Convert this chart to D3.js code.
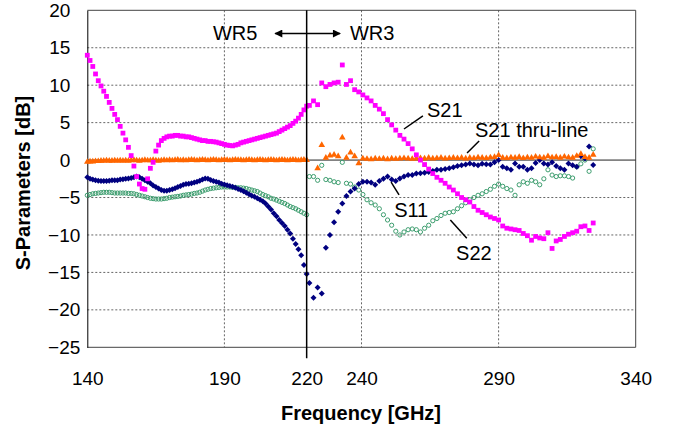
<!DOCTYPE html>
<html>
<head>
<meta charset="utf-8">
<script src="https://cdn.jsdelivr.net/npm/d3@7"></script>
<style>
  body { margin: 0; background: #fff; }
  text { font-family: "Liberation Sans", Arial, sans-serif; fill: #000; }
</style>
</head>
<body>
<svg id="chart" width="673" height="430"></svg>
<script>
// frequency sweeps [GHz]
var freqWR5 = [140,141,142,143,144,145,146,147,148,149,150,151,152,153,154,155,156,157,158,159,
  160,161,162,163,164,165,166,167,168,169,170,171,172,173,174,175,176,177,178,179,
  180,181,182,183,184,185,186,187,188,189,190,191,192,193,194,195,196,197,198,199,
  200,201,202,203,204,205,206,207,208,209,210,211,212,213,214,215,216,217,218,219,220]
var freqWR3 = [221,222.5,224,225.5,227,228.5,230,231.5,233,234.5,236,237.5,239,240.5,242,243.5,
  245,246.5,248,249.5,251,252.5,254,255.5,257,258.5,260,261.5,263,264.5,266,267.5,269,270.5,
  272,273.5,275,276.5,278,279.5,281,282.5,284,285.5,287,288.5,290,291.5,293,294.5,296,297.5,
  299,300.5,302,303.5,305,306.5,308,309.5,311,312.5,314,315.5,317,318.5,320,321.5,323,324.5]

// S21 [dB]
var s21WR5 = [14.0,13.3,12.5,11.5,10.6,9.9,9.2,8.5,7.7,6.9,
  6.1,5.4,4.5,3.6,2.7,1.7,0.6,-0.8,-2.2,-3.2,
  -3.8,-3.9,-2.5,-1.1,-0.3,1.2,2.0,2.6,2.9,3.1,
  3.2,3.2,3.3,3.3,3.2,3.2,3.1,3.1,3.0,2.9,
  2.8,2.7,2.6,2.6,2.5,2.5,2.45,2.4,2.3,2.2,
  2.1,2.0,1.95,1.9,2.0,2.1,2.3,2.4,2.5,2.6,
  2.7,2.8,2.9,3.0,3.1,3.2,3.3,3.4,3.5,3.6,
  3.8,4.0,4.2,4.4,4.6,4.9,5.2,5.6,6.1,6.7,7.2]
var s21WR3 = [7.3,7.9,7.4,10.3,9.8,10.1,10.3,10.4,12.7,10.1,
  10.6,9.4,9.1,8.7,8.3,7.9,7.3,6.8,6.2,5.4,
  4.7,4.0,3.3,2.8,2.2,1.5,0.7,0.0,-0.6,-1.2,
  -1.8,-2.3,-2.7,-3.1,-3.6,-4.0,-4.5,-5.0,-5.3,-5.6,
  -6.2,-6.7,-7.0,-7.3,-7.6,-7.8,-8.0,-8.8,-9.1,-9.2,
  -9.3,-9.4,-9.8,-10.1,-10.7,-10.2,-10.4,-10.5,-9.7,-11.8,
  -10.8,-10.6,-10.2,-9.9,-9.7,-9.5,-8.9,-8.8,-9.4,-8.4]

// S21 thru-line [dB]
var thruWR5 = [-0.25,-0.2,-0.2,-0.15,-0.15,-0.1,-0.1,-0.05,-0.1,-0.1,
  -0.05,-0.1,-0.05,-0.1,-0.05,-0.1,-0.05,0.0,-0.05,-0.1,
  -0.05,0.0,-0.05,-0.05,0.0,-0.05,-0.1,-0.05,0.0,-0.05,
  0.0,-0.05,0.0,0.05,-0.05,0.0,-0.05,0.0,0.05,0.0,
  -0.05,0.0,0.05,0.0,-0.05,0.0,0.05,0.0,-0.05,0.0,
  0.05,0.0,-0.05,0.0,0.05,0.0,0.0,-0.05,0.0,0.05,
  0.0,-0.05,0.0,0.05,0.0,-0.05,0.0,0.05,0.0,-0.05,
  0.0,0.05,0.0,-0.05,0.0,0.05,0.0,-0.05,0.0,0.05,0.0]
var thruWR3 = [null,null,-1.1,2.0,0.3,0.6,0.7,0.5,3.0,0.3,
  1.0,0.5,-0.45,0.2,0.15,0.1,0.2,0.15,0.2,0.1,
  0.2,0.15,0.2,0.25,0.2,0.15,0.2,0.25,0.2,0.3,
  0.2,0.25,0.3,0.2,0.25,0.3,0.25,0.3,0.2,0.3,
  0.25,0.35,0.3,0.25,0.35,0.4,0.65,0.3,0.25,0.35,
  0.3,0.4,0.25,0.35,0.3,0.45,0.35,0.3,0.5,0.35,
  0.4,0.3,0.45,0.35,0.3,0.55,0.8,0.4,0.3,0.7]

// S11 [dB]
var s11WR5 = [-2.3,-2.5,-2.6,-2.7,-2.75,-2.8,-2.8,-2.8,-2.75,-2.7,
  -2.7,-2.7,-2.6,-2.55,-2.5,-2.45,-2.4,-2.3,-2.2,-2.3,
  -2.5,-2.7,-2.9,-3.1,-3.4,-3.6,-3.8,-4.0,-4.1,-4.1,
  -4.0,-3.9,-3.75,-3.6,-3.45,-3.3,-3.2,-3.15,-3.1,-3.0,
  -2.9,-2.75,-2.6,-2.45,-2.5,-2.65,-2.8,-2.9,-3.0,-3.15,
  -3.25,-3.35,-3.45,-3.55,-3.7,-3.85,-4.0,-4.15,-4.35,-4.55,
  -4.75,-4.9,-5.1,-5.3,-5.5,-5.8,-6.2,-6.6,-7.1,-7.5,
  -8.0,-8.4,-8.8,-9.3,-9.8,-10.5,-11.2,-11.9,-12.7,-14.0,-15.2]
var s11WR3 = [-16.4,-18.4,-17.0,-17.8,-11.7,-10.0,-8.3,-6.9,-5.8,-4.8,
  -4.2,-3.8,-3.2,-2.9,-2.9,-3.0,-3.3,-2.8,-2.5,-2.2,
  -2.6,-2.8,-2.45,-2.2,-2.0,-2.0,-1.8,-1.75,-1.7,-1.6,
  -1.45,-1.3,-1.3,-1.2,-1.1,-0.95,-0.8,-0.7,-0.6,-0.45,
  -0.6,-0.7,-0.5,-0.55,-0.6,-0.3,0.0,-0.9,-1.1,-1.3,
  -0.45,-0.9,-0.9,-1.3,-1.1,-0.4,0.0,-0.45,-0.6,-0.3,
  -0.8,-1.1,-1.3,-0.45,-0.7,-0.9,0.5,0.2,1.8,-0.67]

// S22 [dB]
var s22WR5 = [-4.7,-4.6,-4.5,-4.45,-4.4,-4.35,-4.3,-4.3,-4.3,-4.35,
  -4.4,-4.4,-4.4,-4.4,-4.4,-4.45,-4.45,-4.5,-4.6,-4.7,
  -4.8,-4.9,-5.0,-5.1,-5.15,-5.2,-5.2,-5.2,-5.15,-5.1,
  -5.0,-4.95,-4.9,-4.85,-4.8,-4.7,-4.65,-4.6,-4.55,-4.45,
  -4.4,-4.3,-4.15,-4.0,-3.9,-3.8,-3.75,-3.7,-3.65,-3.6,
  -3.6,-3.6,-3.6,-3.65,-3.65,-3.7,-3.7,-3.75,-3.8,-3.9,
  -4.0,-4.1,-4.2,-4.4,-4.6,-4.75,-4.9,-5.1,-5.2,-5.35,
  -5.5,-5.65,-5.8,-6.0,-6.2,-6.35,-6.5,-6.7,-6.9,-7.1,-7.3]
var s22WR3 = [-2.2,-2.2,-2.7,-0.7,-2.6,-2.7,-2.9,-3.0,-0.3,-3.1,
  -3.2,-3.6,-4.0,-4.6,-5.3,-5.7,-6.0,-6.5,-7.3,-8.0,
  -8.7,-9.5,-10.0,-9.6,-9.3,-9.2,-9.3,-9.6,-9.1,-8.7,
  -8.1,-7.8,-7.4,-7.1,-7.0,-6.9,-6.5,-6.1,-5.7,-5.3,
  -5.0,-4.7,-4.5,-4.2,-3.9,-3.5,-3.2,-3.5,-3.8,-4.0,
  -4.7,-3.3,-2.9,-3.1,-2.7,-2.9,-3.3,-2.5,-1.3,-2.0,
  -2.2,-2.1,-2.1,-2.2,-2.4,-0.9,-0.5,0.0,-1.5,1.5]

// axis ticks
var xTicks = [140, 190, 220, 240, 290, 340]
var yTicks = [-25, -20, -15, -10, -5, 0, 5, 10, 15, 20]
var xGrid = [190, 240, 290]
var bandEdge = 220

// plot area
var plotLeft = 87.3, plotRight = 635.7, plotTop = 10.3, plotBottom = 347.3

var x = d3.scaleLinear().domain([140, 340]).range([plotLeft, plotRight])
var y = d3.scaleLinear().domain([-25, 20]).range([plotBottom, plotTop])

var svg = d3.select("#chart")

function pairs(freqs, vals) {
  return freqs.map(function(f, i) { return [f, vals[i]] })
              .filter(function(d) { return d[1] != null })
}

// dashed gridlines
svg.selectAll(".hgrid")
  .data(yTicks.filter(function(d) { return d != 0 && d != 20 && d != -25 }))
  .enter().append("line")
    .attr("x1", plotLeft).attr("x2", plotRight)
    .attr("y1", function(d) { return y(d) }).attr("y2", function(d) { return y(d) })
    .attr("stroke", "#666").attr("stroke-width", 1).attr("stroke-dasharray", "2,2")

svg.selectAll(".vgrid")
  .data(xGrid)
  .enter().append("line")
    .attr("x1", function(d) { return x(d) }).attr("x2", function(d) { return x(d) })
    .attr("y1", plotTop).attr("y2", plotBottom)
    .attr("stroke", "#666").attr("stroke-width", 1).attr("stroke-dasharray", "2,2")

// plot border
svg.append("path")
  .attr("d", "M" + plotLeft + "," + plotTop + "H" + plotRight + "V" + plotBottom + "H" + plotLeft)
  .attr("fill", "none").attr("stroke", "#444").attr("stroke-width", 1)

// zero line
svg.append("line")
  .attr("x1", plotLeft).attr("x2", plotRight)
  .attr("y1", y(0)).attr("y2", y(0))
  .attr("stroke", "#222").attr("stroke-width", 1)

// y axis
var yAxis = svg.append("g")
  .attr("transform", "translate(" + plotLeft + ",0)")
  .call(d3.axisLeft(y).tickValues(yTicks).tickSize(0).tickPadding(17))
yAxis.select(".domain").attr("stroke", "#000")
yAxis.selectAll("text")
  .attr("font-size", 19).attr("font-family", "Liberation Sans, Arial, sans-serif")
  .attr("x", function(d) { return d < 0 ? -7 : -17 })

// x axis (labels only)
var xAxis = svg.append("g")
  .attr("transform", "translate(0," + plotBottom + ")")
  .call(d3.axisBottom(x).tickValues(xTicks).tickSize(0).tickPadding(24))
xAxis.select(".domain").remove()
xAxis.selectAll("text")
  .attr("font-size", 19).attr("font-family", "Liberation Sans, Arial, sans-serif")

// axis titles
svg.append("text")
  .attr("x", 361).attr("y", 420)
  .attr("text-anchor", "middle").attr("font-size", 20).attr("font-weight", "bold")
  .text("Frequency [GHz]")

svg.append("text")
  .attr("transform", "translate(30," + 183 + ") rotate(-90)")
  .attr("text-anchor", "middle").attr("font-size", 20).attr("font-weight", "bold")
  .text("S-Parameters [dB]")

// series
var squarePath = d3.symbol().type(d3.symbolSquare).size(23)
var trianglePath = d3.symbol().type(d3.symbolTriangle).size(19)
var diamondPath = "M0,-3L3,0L0,3L-3,0Z"

var s22Data = pairs(freqWR5, s22WR5).concat(pairs(freqWR3, s22WR3))
svg.append("g").selectAll("circle")
  .data(s22Data)
  .enter().append("circle")
    .attr("cx", function(d) { return x(d[0]) })
    .attr("cy", function(d) { return y(d[1]) })
    .attr("r", 2.1)
    .attr("fill", "none").attr("stroke", "#3c9d6e").attr("stroke-width", 1)

var s11Data = pairs(freqWR5, s11WR5).concat(pairs(freqWR3, s11WR3))
svg.append("g").selectAll("path")
  .data(s11Data)
  .enter().append("path")
    .attr("d", diamondPath)
    .attr("transform", function(d) { return "translate(" + x(d[0]) + "," + y(d[1]) + ")" })
    .attr("fill", "#000080")

var thruData = pairs(freqWR5, thruWR5).concat(pairs(freqWR3, thruWR3))
svg.append("g").selectAll("path")
  .data(thruData)
  .enter().append("path")
    .attr("d", trianglePath)
    .attr("transform", function(d) { return "translate(" + x(d[0]) + "," + y(d[1]) + ")" })
    .attr("fill", "#ff6600")

var s21Data = pairs(freqWR5, s21WR5).concat(pairs(freqWR3, s21WR3))
svg.append("g").selectAll("path")
  .data(s21Data)
  .enter().append("path")
    .attr("d", squarePath)
    .attr("transform", function(d) { return "translate(" + x(d[0]) + "," + y(d[1]) + ")" })
    .attr("fill", "#ff00ff")

// waveguide band edge
svg.append("line")
  .attr("x1", x(bandEdge)).attr("x2", x(bandEdge))
  .attr("y1", plotTop).attr("y2", plotBottom + 11)
  .attr("stroke", "#000").attr("stroke-width", 1.5)

// band arrow
svg.append("defs").append("marker")
  .attr("id", "head").attr("viewBox", "0 0 10 10")
  .attr("refX", 9).attr("refY", 5)
  .attr("markerWidth", 9).attr("markerHeight", 8)
  .attr("markerUnits", "userSpaceOnUse")
  .attr("orient", "auto-start-reverse")
  .append("path").attr("d", "M0,0L10,5L0,10Z").attr("fill", "#000")

svg.append("line")
  .attr("x1", x(208.5)).attr("x2", x(232.2))
  .attr("y1", y(16.9)).attr("y2", y(16.9))
  .attr("stroke", "#000").attr("stroke-width", 1.3)
  .attr("marker-start", "url(#head)").attr("marker-end", "url(#head)")

// labels
var labels = [
  {t: "WR5", f: 185.8, v: 16.0},
  {t: "WR3", f: 235.8, v: 16.0},
  {t: "S21", f: 263.9, v: 5.75},
  {t: "S21 thru-line", f: 281.4, v: 3.08},
  {t: "S11", f: 251.9, v: -7.6},
  {t: "S22", f: 274.5, v: -13.35}
]
svg.selectAll(".lbl")
  .data(labels)
  .enter().append("text")
    .attr("x", function(d) { return x(d.f) })
    .attr("y", function(d) { return y(d.v) })
    .attr("font-size", 20)
    .text(function(d) { return d.t })

var leaders = [
  [255.5, 4.15, 262.4, 5.89],
  [278.5, 0.95, 282.9, 2.55],
  [250.8, -2.93, 253.7, -4.66],
  [272.4, -8.0, 278.4, -10.45]
]
svg.selectAll(".leader")
  .data(leaders)
  .enter().append("line")
    .attr("x1", function(d) { return x(d[0]) }).attr("y1", function(d) { return y(d[1]) })
    .attr("x2", function(d) { return x(d[2]) }).attr("y2", function(d) { return y(d[3]) })
    .attr("stroke", "#000").attr("stroke-width", 1.5)
</script>
</body>
</html>
